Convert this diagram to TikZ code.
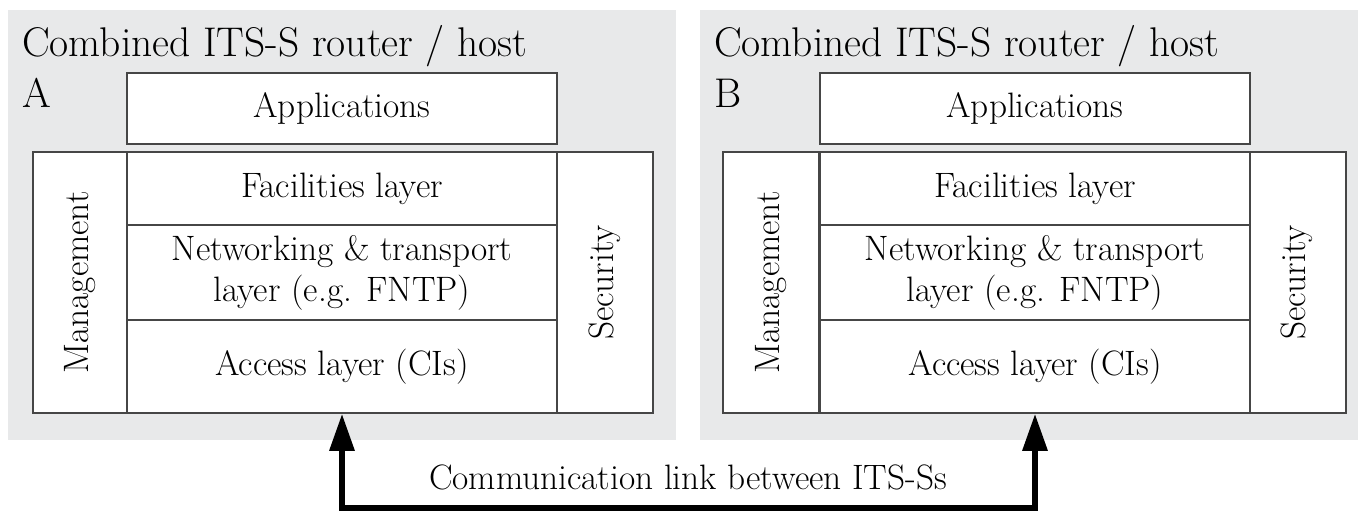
\documentclass[tikz,border=0pt]{standalone}
\usepackage{tikz}
\usetikzlibrary{arrows.meta}

\definecolor{panelgray}{RGB}{232,233,234}
\definecolor{boxline}{RGB}{70,70,70}

\tikzset{
    layerbox/.style={draw=boxline, line width=1.5pt, fill=white, minimum width=430pt,
        inner sep=0pt, align=center, font=\fontsize{35.3}{41}\selectfont},
    sidebox/.style={draw=boxline, line width=1.5pt, fill=white, rotate=90,
        minimum width=261pt, inner sep=0pt, font=\fontsize{35.3}{41}\selectfont},
    titletext/.style={anchor=base west, inner sep=0pt, font=\fontsize{41.5}{48}\selectfont},
    linklabel/.style={inner sep=0pt, font=\fontsize{35.3}{41}\selectfont},
    link/.style={line width=6pt,
        {Triangle[length=37pt,width=24pt]}-{Triangle[length=37pt,width=24pt]}}
}

\begin{document}
\begin{tikzpicture}[x=1pt, y=-1pt]
    \useasboundingbox (0,0) rectangle (1358,511);

    % station A
    \fill[panelgray] (8,10) rectangle (676,440);
    \node[titletext] (titleA) at (22,57) {Combined ITS-S router / host};
    \node[titletext] (nameA) at (22,107) {A};
    \node[layerbox, minimum height=71pt] (appsA) at (342,108.5) {Applications};
    \node[sidebox, minimum height=94pt] (mgmtA) at (80,282.5) {Management};
    \node[sidebox, minimum height=96pt] (secA) at (605,282.5) {Security};
    \node[layerbox, minimum height=73pt] (facA) at (342,188.5) {Facilities layer};
    \node[layerbox, minimum height=95pt] (netA) at (342,272.5) {Networking \& transport\\layer (e.g. FNTP)};
    \node[layerbox, minimum height=93pt] (accA) at (342,366.5) {Access layer (CIs)};

    % station B
    \fill[panelgray] (700,10) rectangle (1358,440);
    \node[titletext] (titleB) at (714,57) {Combined ITS-S router / host};
    \node[titletext] (nameB) at (714,107) {B};
    \node[layerbox, minimum height=71pt] (appsB) at (1035,108.5) {Applications};
    \node[sidebox, minimum height=96pt] (mgmtB) at (771,282.5) {Management};
    \node[sidebox, minimum height=98pt] (secB) at (1297,282.5) {Security};
    \node[layerbox, minimum height=73pt] (facB) at (1035,188.5) {Facilities layer};
    \node[layerbox, minimum height=95pt] (netB) at (1035,272.5) {Networking \& transport\\layer (e.g. FNTP)};
    \node[layerbox, minimum height=93pt] (accB) at (1035,366.5) {Access layer (CIs)};

    % link between the two stations
    \coordinate (linkA) at (342,508);
    \draw[link] (accA.south) -- (linkA) -| (accB.south);
    \node[linklabel] (linktext) at (688,477) {Communication link between ITS-Ss};
\end{tikzpicture}
\end{document}
